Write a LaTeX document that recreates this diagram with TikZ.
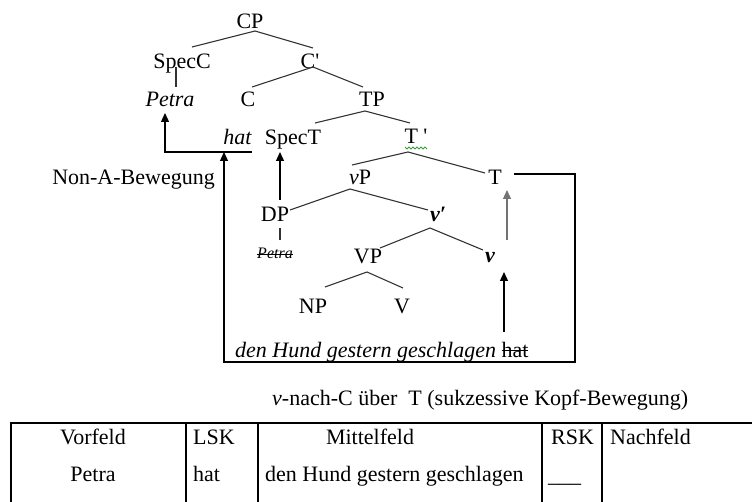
\documentclass[tikz,border=0pt]{standalone}
\usepackage{fontspec}
\setmainfont{Liberation Serif}
\usetikzlibrary{arrows.meta}
\newcommand\mystrike[1]{\setbox0\hbox{#1}\rlap{\rule[0.26em]{\wd0}{0.07em}}\box0}
\definecolor{treegray}{HTML}{333333}
\definecolor{squiggle}{HTML}{3A9C3A}
\begin{document}
\begin{tikzpicture}[x=1pt,y=-1pt,
  every node/.style={font=\fontsize{22}{26}\selectfont, inner sep=0pt, anchor=base},
  treeline/.style={draw=treegray, line width=1.1pt},
  mv/.style={line width=1.3pt, -{Triangle[length=9pt,width=8pt]}},
  frameline/.style={line width=1.3pt},
  tabline/.style={line width=1.2pt}]
\useasboundingbox (0,0) rectangle (752,502);

% tree nodes
\node (CP) at (250,29) {CP};
\node (SpecC) at (182,69) {SpecC};
\node (Cbar) at (310,69) {C\textquotesingle};
\node (PetraC) at (170,107) {\textit{Petra}};
\node (C) at (248,107) {C};
\node (TP) at (372,107) {TP};
\node[anchor=base east] (hatC) at (252,145) {\textit{hat}};
\node (SpecT) at (293,145) {SpecT};
\node (Tbar) at (416,144) {T \textquotesingle};
\node[anchor=base east] (nonA) at (215,185) {Non-A-Bewegung};
\node (vP) at (360,185) {\textit{v}P};
\node (T) at (495,185) {T};
\node (DP) at (275,222) {DP};
\node (vbar) at (438,222) {\textbf{\textit{v′}}};
\node[font=\fontsize{16}{18}\selectfont] (PetraT) at (275,259) {\mystrike{\textit{Petra}}};
\node (VP) at (368,264) {VP};
\node (v) at (490,263) {\textbf{\textit{v}}};
\node (NP) at (313,314) {NP};
\node (V) at (402,314) {V};
\node[anchor=base west] (dhg) at (235,357) {\textit{den Hund gestern geschlagen} \mystrike{hat}};

% squiggle under T'
\draw[squiggle, line width=0.8pt] (405,147) -- (407,149) -- (409,147) -- (411,149) -- (413,147) -- (415,149) -- (417,147) -- (419,149) -- (421,147) -- (423,149) -- (425,147) -- (427,149);

% connector endpoints
\coordinate (CPb) at (255,31);
\coordinate (SpecCt) at (192,47);
\coordinate (Cbart) at (313,48);
\coordinate (Cbarb) at (313,67);
\coordinate (Ct) at (252,87);
\coordinate (TPt) at (363,87);
\coordinate (SpecCb) at (176,67);
\coordinate (PetraCt) at (176,87);
\coordinate (TPb) at (365,111);
\coordinate (SpecTt) at (315,123);
\coordinate (Tbart) at (410,123);
\coordinate (Tbarb) at (408,152);
\coordinate (vPt) at (352,165);
\coordinate (Tt) at (485,173);
\coordinate (vPb) at (350,189);
\coordinate (DPt) at (290,210);
\coordinate (vbart) at (428,210);
\coordinate (vbarb) at (430,228);
\coordinate (VPt) at (380,248);
\coordinate (vt) at (483,250);
\coordinate (VPb) at (367,272);
\coordinate (NPt) at (325,287);
\coordinate (Vt) at (403,288);
\coordinate (DPb) at (280,228);
\coordinate (PetraTt) at (280,240);

\draw[treeline] (SpecCt) -- (CPb) -- (Cbart);
\draw[treeline] (Ct) -- (Cbarb) -- (TPt);
\draw[treeline] (SpecCb) -- (PetraCt);
\draw[treeline] (SpecTt) -- (TPb) -- (Tbart);
\draw[treeline] (vPt) -- (Tbarb) -- (Tt);
\draw[treeline] (DPt) -- (vPb) -- (vbart);
\draw[treeline] (VPt) -- (vbarb) -- (vt);
\draw[treeline] (NPt) -- (VPb) -- (Vt);
\draw[treeline] (DPb) -- (PetraTt);

% movement arrows
\coordinate (hatR) at (252,152);
\coordinate (hatCorner) at (165,152);
\coordinate (PetraCb) at (165,113);
\coordinate (Tr) at (514,174);
\coordinate (boxTR) at (575,174);
\coordinate (boxBR) at (575,362);
\coordinate (boxBL) at (224,362);
\coordinate (hatLine) at (224,152);
\coordinate (DPtop) at (280,200);
\coordinate (SpecTb) at (280,152);
\coordinate (vtop) at (507,240);
\coordinate (Tb) at (507,190);
\coordinate (hatTop) at (504,332);
\coordinate (vb) at (504,272);

\draw[mv] (hatR) -- (hatCorner) -- (PetraCb);
\draw[mv] (Tr) -- (boxTR) -- (boxBR) -- (boxBL) -- (hatLine);
\draw[mv] (DPtop) -- (SpecTb);
\draw[mv, draw=black!55, fill=black] (vtop) -- (Tb);
\draw[mv] (hatTop) -- (vb);

% caption
\node[anchor=base west] (cap) at (272,405) {\textit{v}-nach-C über\ \ T (sukzessive Kopf-Bewegung)};

% table
\draw[tabline] (11,502) -- (11,423) -- (752,423);
\draw[tabline] (186,423) -- (186,502);
\draw[tabline] (258,423) -- (258,502);
\draw[tabline] (542,423) -- (542,502);
\draw[tabline] (602,423) -- (602,502);

\node (vf) at (93,444) {Vorfeld};
\node (pe) at (93,481) {Petra};
\node[anchor=base west] (lsk) at (193,444) {LSK};
\node[anchor=base west] (hat2) at (193,481) {hat};
\node (mf) at (370,444) {Mittelfeld};
\node[anchor=base west] (dhg2) at (265,481) {den Hund gestern geschlagen};
\node[anchor=base west] (rsk) at (551,444) {RSK};
\node[anchor=base west] (blank) at (548,482) {\_\_\_};
\node[anchor=base west] (nf) at (610,444) {Nachfeld};
\end{tikzpicture}
\end{document}
